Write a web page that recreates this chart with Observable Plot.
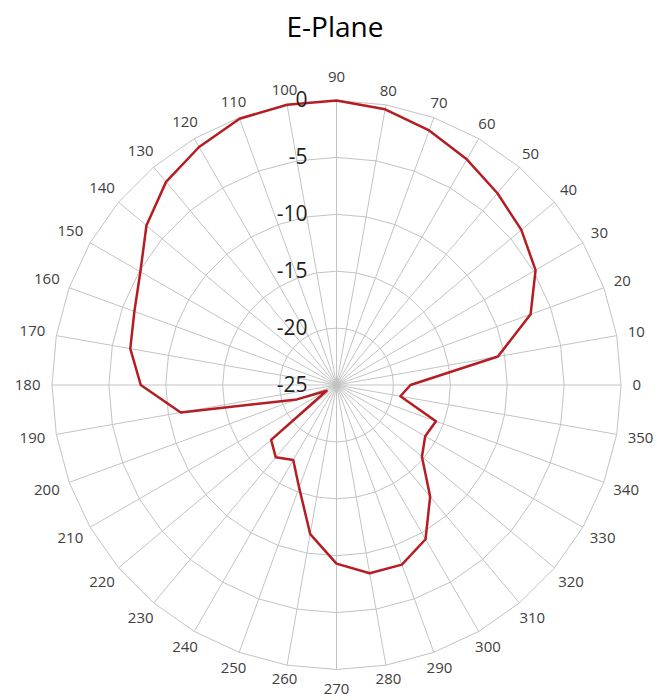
<!DOCTYPE html>
<html>
<head>
<meta charset="utf-8">
<script src="https://cdn.jsdelivr.net/npm/d3@7"></script>
<script src="https://cdn.jsdelivr.net/npm/@observablehq/plot@0.6"></script>
<style>
  body { margin: 0; background: #fff; }
  #title {
    height: 56px; box-sizing: border-box; padding-top: 6px; padding-left: 13px;
    font-family: "Open Sans", sans-serif; font-size: 28px; line-height: 40px;
    text-align: center; color: #000;
  }
  #chart svg { display: block; }
</style>
</head>
<body>
<div id="title">E-Plane</div>
<div id="chart"></div>
<script>
// Angle categories (degrees) and measured gain (dB)
const angles = [0, 10, 20, 30, 40, 50, 60, 70, 80, 90, 100, 110, 120, 130, 140, 150, 160, 170,
                180, 190, 200, 210, 220, 230, 240, 250, 260, 270, 280, 290, 300, 310, 320, 330, 340, 350];
const gainDb = [-18.5, -10.6, -6.85, -4.8, -3.8, -3.0, -2.1, -1.2, -0.4, 0, 0, -0.1, -0.85, -1.7, -3.2, -5.1, -6.1, -6.6,
                -7.8, -11.1, -21.3, -24.0, -17.5, -16.7, -17.4, -15.4, -11.7, -9.3, -8.2, -8.2, -9.35, -12.2, -15.2, -16.0, -15.7, -19.3];
const angleLabels = ["0", "10", "20", "30", "40", "50", "60", "70", "80", "90", "100", "110", "120", "130", "140", "150", "160", "170",
                     "180", "190", "200", "210", "220", "230", "240", "250", "260", "270", "280", "290", "300", "310", "320", "330", "340", "350"];
const ringLevels = [-20, -15, -10, -5, 0];
const dbTickValues = [0, -5, -10, -15, -20, -25];
const dbTickLabels = ["0", "-5", "-10", "-15", "-20", "-25"];

const DB_MIN = -25, DB_MAX = 0;
const RADIUS_PX = 284.5;
const pxPerDb = RADIUS_PX / (DB_MAX - DB_MIN);

// polar mapping through an azimuthal projection centred on the pole
const lon = a => a + 90;
const lat = v => 90 - (v - DB_MIN);

const pattern = angles.map((a, i) => ({angle: a, gain: gainDb[i]}));
const ringPts = ringLevels.flatMap(level => angles.map(a => ({level, angle: a})));
const labelData = angles.map((a, i) => ({angle: a, label: angleLabels[i]}));

// distance of each angle label centre from the pole, in projection degrees
function labelRadius(d) {
  const rad = d.angle * Math.PI / 180;
  const c = Math.abs(Math.cos(rad));
  const hw = d.label.length * 4.3;
  const extra = c < 0.01 ? (Math.sin(rad) > 0 ? 11 : 7) : 0;
  const px = 297 + (hw - 1) * c + extra;
  return px / pxPerDb;
}

const gridColor = "#c3c3c3";

const chart = Plot.plot({
  width: 657,
  height: 644,
  marginLeft: 51.5,
  marginRight: 36.5,
  marginTop: 44,
  marginBottom: 31,
  style: {fontFamily: '"Open Sans", sans-serif', background: "#fff", overflow: "visible"},
  projection: {
    type: "azimuthal-equidistant",
    rotate: [0, -90],
    clip: false,
    domain: d3.geoCircle().center([0, 90]).radius(DB_MAX - DB_MIN).precision(0.5)()
  },
  marks: [
    Plot.line(ringPts, {
      x: d => lon(d.angle), y: d => lat(d.level), z: "level",
      curve: "linear-closed", stroke: gridColor, strokeWidth: 1
    }),
    Plot.link(angles, {
      x1: a => lon(a), y1: lat(DB_MIN), x2: a => lon(a), y2: lat(DB_MAX),
      curve: "linear", stroke: gridColor, strokeWidth: 1
    }),
    Plot.line(pattern, {
      x: d => lon(d.angle), y: d => lat(d.gain),
      curve: "linear-closed", stroke: "#b51d22", strokeWidth: 2.5, strokeLinejoin: "round"
    }),
    Plot.text(dbTickValues, {
      x: lon(90), y: v => lat(v), text: (v, i) => dbTickLabels[i],
      textAnchor: "end", dx: -29, fontSize: 21, fill: "#1f1f1f"
    }),
    Plot.text(labelData, {
      x: d => lon(d.angle), y: d => 90 - labelRadius(d),
      text: "label", fontSize: 15, fill: "#404040"
    })
  ]
});
document.getElementById("chart").appendChild(chart);
</script>
</body>
</html>
